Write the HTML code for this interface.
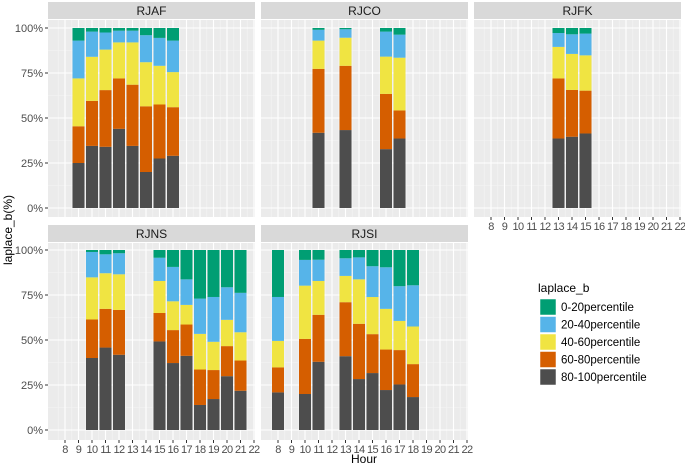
<!DOCTYPE html>
<html><head><meta charset="utf-8"><style>
body{margin:0;background:#fff;}
svg{display:block;font-family:"Liberation Sans",Arial,sans-serif;}
</style></head><body>
<svg id="chart" width="685" height="465" xmlns="http://www.w3.org/2000/svg"></svg>
<script>
const seriesNames = ["80-100percentile","60-80percentile","40-60percentile","20-40percentile","0-20percentile"];
const seriesColors = ["#4d4d4d","#d55e00","#f0e442","#56b4e9","#009e73"];
const tickHours = [8,9,10,11,12,13,14,15,16,17,18,19,20,21,22];
const yTicks = [0,25,50,75,100];
const yTickLabels = ["0%","25%","50%","75%","100%"];

const rjafHours = [9,10,11,12,13,14,15,16];
const rjafDark = [25,34.5,34,44,34.5,20,27.5,29];
const rjafOrange = [20.4,25,31.5,28,34,36.5,30,27];
const rjafYellow = [26.6,24.5,22.5,20,23.5,24.5,21.5,19.5];
const rjafBlue = [21,14,9.5,6.5,6.5,15,15.5,17.5];
const rjafGreen = [7,2,2.5,1.5,1.5,4,5.5,7];

const rjcoHours = [11,13,16,17];
const rjcoDark = [41.8,43.3,32.7,38.6];
const rjcoOrange = [35.5,35.7,30.7,15.6];
const rjcoYellow = [15.7,15.6,20.7,29.3];
const rjcoBlue = [6,4.7,13.9,12.8];
const rjcoGreen = [1,0.7,2,3.7];

const rjfkHours = [13,14,15];
const rjfkDark = [38.6,39.6,41.4];
const rjfkOrange = [33.4,26,23.8];
const rjfkYellow = [17.5,20,19.6];
const rjfkBlue = [7.7,10.9,12.1];
const rjfkGreen = [2.8,3.5,3.1];

const rjnsHours = [10,11,12,15,16,17,18,19,20,21];
const rjnsDark = [40,45.8,41.8,49.2,37.2,41.2,13.9,17.2,29.9,21.8];
const rjnsOrange = [21.4,21.5,24.9,15.8,18.3,17.4,19.7,16.1,16.7,16.8];
const rjnsYellow = [23.4,19.8,19.8,17.8,16,10.9,19.8,15.7,14.6,15.7];
const rjnsBlue = [14.1,10.5,11.7,12.9,19.1,14.2,19.6,24.9,18.1,21.9];
const rjnsGreen = [1.1,2.4,1.8,4.3,9.4,16.3,27,26.1,20.7,23.8];

const rjsiHours = [8,10,11,13,14,15,16,17,18];
const rjsiDark = [20.9,20,37.9,41,28.3,31.6,22.2,25.3,18.3];
const rjsiOrange = [13.9,30.6,26.1,30,30.7,21.6,22.5,19.1,18.3];
const rjsiYellow = [14.7,29.6,18.8,14.6,24.7,20.6,22.6,16.2,20.9];
const rjsiBlue = [24.4,14.3,11.8,9.8,12.2,17.1,23.1,19.3,22.9];
const rjsiGreen = [26.1,5.5,5.4,4.6,4.1,9,9.6,20.1,19.6];

const svg = document.getElementById('chart');
const NS = "http://www.w3.org/2000/svg";
function mk(tag, attrs, parent){const e=document.createElementNS(NS,tag);for(const k in attrs)e.setAttribute(k,attrs[k]);(parent||svg).appendChild(e);return e;}

const panels = [
 {name:"RJAF",x:48,top:20,zero:208,hours:rjafHours,s:[rjafDark,rjafOrange,rjafYellow,rjafBlue,rjafGreen],yaxis:true,xaxis:false},
 {name:"RJCO",x:261,top:20,zero:208,hours:rjcoHours,s:[rjcoDark,rjcoOrange,rjcoYellow,rjcoBlue,rjcoGreen],yaxis:false,xaxis:false},
 {name:"RJFK",x:474,top:20,zero:208,hours:rjfkHours,s:[rjfkDark,rjfkOrange,rjfkYellow,rjfkBlue,rjfkGreen],yaxis:false,xaxis:true},
 {name:"RJNS",x:48,top:243,zero:430,hours:rjnsHours,s:[rjnsDark,rjnsOrange,rjnsYellow,rjnsBlue,rjnsGreen],yaxis:true,xaxis:true},
 {name:"RJSI",x:261,top:243,zero:430,hours:rjsiHours,s:[rjsiDark,rjsiOrange,rjsiYellow,rjsiBlue,rjsiGreen],yaxis:false,xaxis:true}
];
const PW=207, PH=197, STEP=13.5, BW=12;

panels.forEach(p=>{
  const g=mk('g',{});
  
  
  const xs=h=>p.x+17+(h-8)*STEP;
  const ys=v=>p.zero-v*1.8;
  const bottom=p.top+PH;
  const strip=mk('rect',{x:p.x,y:p.top-18,width:PW,height:17,fill:'#d9d9d9'},g);
  
  
  const st=mk('text',{x:p.x+PW/2,y:p.top-5,'text-anchor':'middle','font-size':12,fill:'#1a1a1a'},g);st.textContent=p.name;
  
  
  mk('rect',{x:p.x,y:p.top,width:PW,height:PH,fill:'#ebebeb'},g);
  for(let i=0;i<4;i++){const v=yTicks[i]+12.5;mk('line',{x1:p.x,x2:p.x+PW,y1:ys(v),y2:ys(v),stroke:'#f5f5f5','stroke-width':0.6},g);}
  tickHours.forEach(h=>{const x=xs(h)-STEP/2;if(x>p.x)mk('line',{x1:x,x2:x,y1:p.top,y2:bottom,stroke:'#f5f5f5','stroke-width':0.6},g);});
  yTicks.forEach(v=>mk('line',{x1:p.x,x2:p.x+PW,y1:ys(v),y2:ys(v),stroke:'#fff','stroke-width':1.1},g));
  tickHours.forEach(h=>{const x=xs(h);if(x<p.x+PW)mk('line',{x1:x,x2:x,y1:p.top,y2:bottom,stroke:'#fff','stroke-width':1.1},g);});
  p.hours.forEach((h,i)=>{
    let tot=0;p.s.forEach(a=>tot+=a[i]);
    let cum=0;
    p.s.forEach((a,k)=>{
      const v=a[i]/tot*100;
      const r=mk('rect',{x:xs(h)-BW/2,y:ys(cum+v),width:BW,height:v*1.8,fill:seriesColors[k]},g);
      
      
      cum+=v;
    });
  });
  if(p.yaxis){
    yTicks.forEach((v,i)=>{
      mk('line',{x1:p.x-3,x2:p.x,y1:ys(v),y2:ys(v),stroke:'#333','stroke-width':1},g);
      const t=mk('text',{x:p.x-5,y:ys(v)+4,'text-anchor':'end','font-size':11,fill:'#4d4d4d'},g);t.textContent=yTickLabels[i];
      
      
    });
  }
  if(p.xaxis){
    tickHours.forEach(h=>{
      const x=xs(h);
      mk('line',{x1:x,x2:x,y1:bottom,y2:bottom+3,stroke:'#333','stroke-width':1},g);
      const t=mk('text',{x:x,y:bottom+13,'text-anchor':'middle','font-size':11,fill:'#4d4d4d','letter-spacing':'-0.6'},g);t.textContent=h;
      
      
    });
  }
});

const xt=mk('text',{x:364,y:463,'text-anchor':'middle','font-size':12,fill:'#000'});xt.textContent='Hour';


const yt=mk('text',{x:0,y:0,'text-anchor':'middle','font-size':12,fill:'#000',transform:'translate(12,230) rotate(-90)'});yt.textContent='laplace_b(%)';



const lg=mk('g',{});


const lt=mk('text',{x:538,y:292,'font-size':12,fill:'#000'},lg);lt.textContent='laplace_b';


for(let k=4;k>=0;k--){
  const row=4-k;const y=299+row*17.5;
  const r=mk('rect',{x:540,y:y,width:16,height:16,fill:seriesColors[k],stroke:'#fff','stroke-width':0.5},lg);
  
  
  const t=mk('text',{x:561,y:y+12,'font-size':11.5,fill:'#000'},lg);t.textContent=seriesNames[k];
  
  
}
</script>
</body></html>
